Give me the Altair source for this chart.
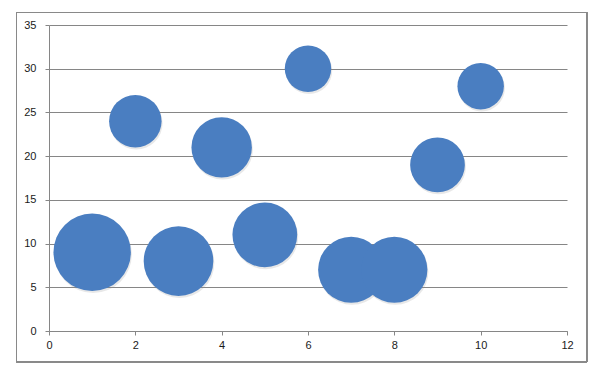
import altair as alt
import pandas as pd

xs = [1, 2, 3, 4, 5, 6, 7, 8, 9, 10]
ys = [9, 24, 8, 21, 11, 30, 7, 7, 19, 28]
sizes = [10, 4.6, 8.1, 6.1, 7, 3.6, 7.3, 7.3, 5, 3.6]

df = pd.DataFrame({"x": xs, "y": ys, "s": sizes})

xscale = alt.Scale(domain=[0, 12], nice=False, zero=True)
yscale = alt.Scale(domain=[0, 35], nice=False, zero=True)
sscale = alt.Scale(type="linear", domain=[0, 10], range=[0, 5990], zero=True)

xaxis = alt.Axis(values=[0, 2, 4, 6, 8, 10, 12], title=None, grid=False,
                 domainColor="#868686", tickColor="#868686", tickSize=4,
                 labelPadding=4, labelFontSize=11, labelFont="Liberation Sans",
                 labelColor="#1a1a1a", labelFlush=False)
yaxis = alt.Axis(values=[0, 5, 10, 15, 20, 25, 30, 35], title=None, grid=True,
                 gridColor="#868686", gridWidth=1,
                 domainColor="#868686", tickColor="#868686", tickSize=4,
                 labelPadding=9, labelFontSize=11, labelFont="Liberation Sans",
                 labelColor="#1a1a1a", labelFlush=False)

shadow = alt.Chart(df).mark_circle(color="#8a8a8a", opacity=0.2, xOffset=1, yOffset=2).encode(
    x=alt.X("x:Q", scale=xscale, axis=xaxis),
    y=alt.Y("y:Q", scale=yscale, axis=yaxis),
    size=alt.Size("s:Q", scale=sscale, legend=None),
)

bubbles = alt.Chart(df).mark_circle(color="#4a7ec1", opacity=1).encode(
    x=alt.X("x:Q", scale=xscale),
    y=alt.Y("y:Q", scale=yscale),
    size=alt.Size("s:Q", scale=sscale, legend=None),
)

border = alt.Chart(df).mark_rect(fill=None, stroke="#898989", strokeWidth=1, clip=False).encode(
    x=alt.value(-32.5), x2=alt.value(538), y=alt.value(-12.5), y2=alt.value(337)
)

chart = alt.layer(shadow, bubbles, border).properties(
    width=518, height=306,
    padding={"left": 49, "top": 25, "right": 42, "bottom": 43},
    autosize=alt.AutoSizeParams(type="none"),
    background="white",
).configure_view(stroke=None)

chart.save("out.html", embed_options={"renderer": "svg", "actions": False})
